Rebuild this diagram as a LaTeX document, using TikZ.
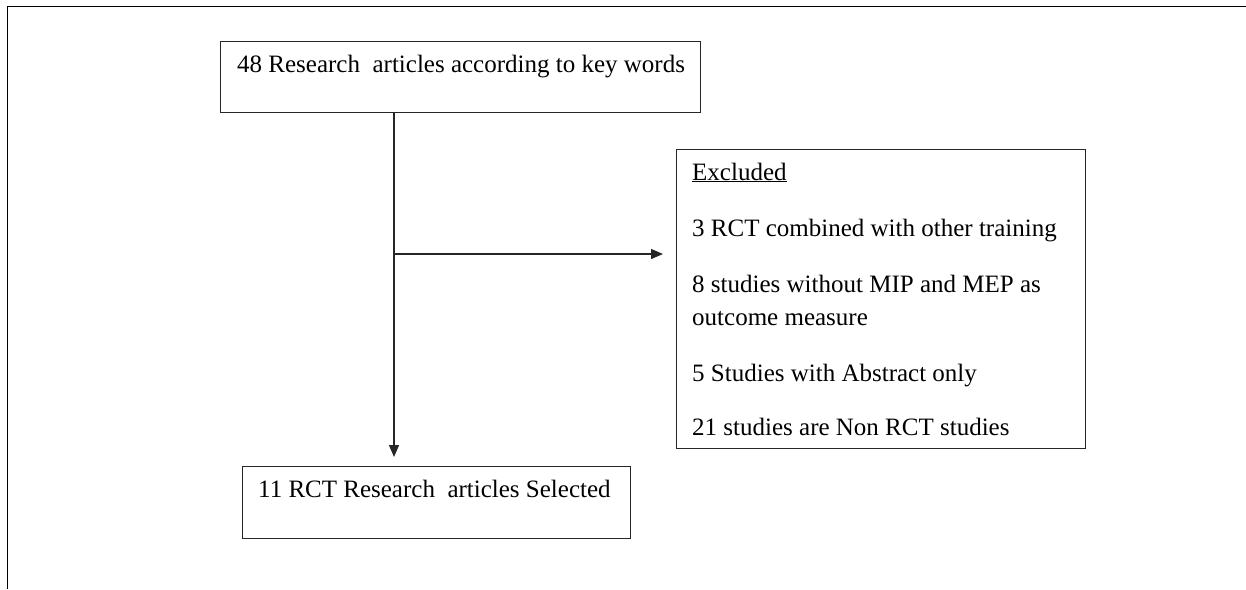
\documentclass[tikz,border=0pt]{standalone}
\usepackage{fontspec}
\setmainfont{Liberation Serif}
\usetikzlibrary{arrows.meta}
\begin{document}
\begin{tikzpicture}[x=1pt,y=-1pt,
  box/.style={draw=black!85, line width=1.3pt, inner sep=0pt, anchor=north west},
  txt/.style={anchor=base west, inner sep=0pt, font=\fontsize{25}{30}\selectfont},
  conn/.style={draw=black!85, line width=1.3pt, -{Triangle[length=12pt,width=10pt]}}]
\useasboundingbox (0,0) rectangle (1246,589);
\draw[line width=1.6pt] (1246,6.5) -- (7.5,6.5) -- (7.5,589);
% boxes
\node[box, minimum width=480pt, minimum height=71pt] (b1) at (220,41) {};
\node[box, minimum width=409pt, minimum height=299pt] (b2) at (676,149) {};
\node[box, minimum width=388pt, minimum height=72pt] (b3) at (242,466) {};
% texts
\node[txt] (t1) at (237,72) {48 Research\ \ articles according to key words};
\node[txt] (t2) at (692,180) {\underline{Excluded}};
\node[txt] (t3) at (692,236) {3 RCT combined with other training};
\node[txt] (t4) at (692,292) {8 studies without MIP and MEP as};
\node[txt] (t4b) at (692,325) {outcome measure};
\node[txt] (t5) at (692,381) {5 Studies with Abstract only};
\node[txt] (t6) at (692,435) {21 studies are Non RCT studies};
\node[txt] (t7) at (258,497) {11 RCT Research\ \ articles Selected};
% connectors
\coordinate (v1) at (394,457);
\coordinate (h0) at (394,254);
\coordinate (h1) at (663,254);
\draw[conn] (b1.south -| v1) -- (v1);
\draw[conn] (h0) -- (h1);
\end{tikzpicture}
\end{document}
